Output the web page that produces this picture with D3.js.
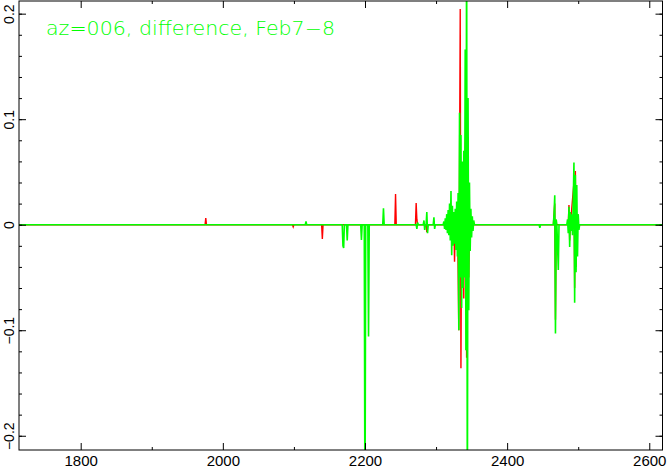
<!DOCTYPE html>
<html><head><meta charset="utf-8">
<script src="https://cdn.jsdelivr.net/npm/d3@7"></script>
<style>html,body{margin:0;padding:0;background:#fff;}svg{display:block;}</style>
</head><body>
<svg id="c" width="668" height="469"></svg>
<script>
// ---- data ----
const titleText = "az=006, difference, Feb7\u22128";
const xTicks = [1800, 2000, 2200, 2400, 2600];
const xMinor = [1900, 2100, 2300, 2500];
const yTicks = [-0.2, -0.1, 0, 0.1, 0.2];
const yTickLabels = ["\u22120.2", "\u22120.1", "0", "0.1", "0.2"];
const yMinor = [-0.2, -0.18, -0.16, -0.14, -0.12, -0.1, -0.08, -0.06, -0.04, -0.02, 0, 0.02, 0.04, 0.06, 0.08, 0.1, 0.12, 0.14, 0.16, 0.18, 0.2];

const redX = [1713, 1975, 1976, 1977, 2098, 2099, 2100, 2139, 2140, 2141, 2242, 2243, 2244, 2271, 2272, 2273, 2274, 2286, 2287, 2288,
  2320, 2321, 2322, 2325, 2326, 2327, 2330, 2332, 2334, 2335, 2336, 2338, 2339, 2340, 2342, 2343, 2345, 2346, 2347,
  2465, 2467, 2468, 2469, 2486, 2487, 2488, 2489, 2494, 2495, 2496, 2497, 2498, 2619];
const redY = [0, 0, 0.0063, 0, 0, -0.002, 0, 0, -0.0136, 0, 0, 0.029, 0, 0, 0.0206, 0.005, 0, 0, -0.007, 0,
  0, 0.012, -0.01, 0.005, -0.035, 0, 0.02, -0.1, 0.2045, -0.136, 0.03, 0.04, -0.07, 0.05, 0.09, -0.126, 0.083, -0.05, 0,
  0, 0.02, -0.09, 0, 0, 0.0187, -0.015, 0, 0.04, -0.06, 0.051, -0.04, 0, 0];

const greenX = [1713, 2116, 2117, 2118, 2168, 2169, 2170, 2171, 2174, 2175, 2176, 2194, 2195, 2196, 2199, 2200, 2201, 2204, 2205, 2206,
  2225, 2226, 2227, 2272, 2273, 2274, 2275, 2282, 2283, 2284, 2285, 2286, 2287, 2288, 2289, 2296, 2297, 2298, 2299,
  2310, 2311, 2312, 2313, 2314, 2315, 2316, 2317, 2318, 2319, 2320, 2321, 2322, 2323, 2324, 2325, 2326, 2327, 2328, 2329, 2330,
  2331, 2332, 2333, 2334, 2335, 2336, 2337, 2338, 2339, 2340, 2341, 2342, 2343, 2344, 2345, 2346, 2347, 2348, 2349, 2350,
  2351, 2352, 2353, 2354, 2445, 2446, 2447, 2465, 2466, 2467, 2468, 2469, 2470, 2472, 2473, 2484, 2485, 2486, 2487, 2488,
  2489, 2490, 2491, 2492, 2493, 2494, 2495, 2496, 2497, 2498, 2499, 2500, 2501, 2502, 2619];
const greenY = [0, 0, 0.003, 0, 0, -0.02, -0.022, 0, 0, -0.015, 0, 0, -0.0145, 0, 0, -0.3, 0, 0, -0.106, 0,
  0, 0.0155, 0, 0, -0.004, 0.002, 0, 0, 0.004, -0.005, 0, 0, 0.012, -0.008, 0, 0, 0.007, -0.004, 0,
  0, 0.003, -0.004, 0.006, -0.005, 0.01, -0.008, 0.014, -0.01, 0.02, -0.015, 0.032, -0.029, 0.018, -0.02, 0.012, -0.018, 0.015, -0.024, 0.022, -0.03,
  0.03, -0.1, 0.106, -0.05, 0.085, -0.079, 0.06, -0.06, 0.07, -0.05, 0.166, -0.119, 0.3, -0.3, 0.12, -0.081, 0.04, -0.025, 0.015, -0.012,
  0.008, -0.006, 0.004, 0, 0, -0.003, 0, 0, 0.01, 0.028, -0.103, 0.005, 0, -0.043, 0, 0, 0.005, -0.008, 0.017, -0.021,
  0.012, -0.006, 0.01, -0.01, 0.02, 0.059, -0.074, 0.047, -0.045, 0.0376, -0.03, 0.01, -0.005, 0, 0];

// ---- layout ----
const svg = d3.select("#c");
const L = 19, R = 662.5, T = 1, B = 450;
const FONT = "DejaVu Sans, Liberation Sans, sans-serif";
const LFONT = "Liberation Sans, Arial, sans-serif";
const x = d3.scaleLinear().domain([1713.2, 2618.6]).range([L, R]);
const y = d3.scaleLinear().domain([-0.2135, 0.212]).range([B, T]);

svg.append("defs").append("clipPath").attr("id", "clip")
  .append("rect").attr("x", L).attr("y", T).attr("width", R - L).attr("height", B - T);

const line = d3.line().x(d => x(d[0])).y(d => y(d[1]));
const plot = svg.append("g").attr("clip-path", "url(#clip)");
plot.append("path").datum(d3.zip(redX, redY))
  .attr("d", line).attr("fill", "none").attr("stroke", "#ff0000").attr("stroke-width", 1.4);
plot.append("path").datum(d3.zip(greenX, greenY))
  .attr("d", line).attr("fill", "none").attr("stroke", "#00ff00").attr("stroke-width", 1.6);

// ---- axes (ticks inward on all four sides) ----
function styleAxis(g) {
  g.select(".domain").remove();
  g.selectAll("line").attr("stroke", "#000").attr("stroke-width", 1);
}
svg.append("g").attr("transform", `translate(0,${B})`)
  .call(d3.axisBottom(x).tickValues(xTicks).tickSizeInner(-7).tickSizeOuter(0).tickFormat(d3.format("d")))
  .call(styleAxis)
  .call(g => g.selectAll("text").attr("y", 16).attr("dy", null)
    .attr("font-family", LFONT).attr("font-size", 15).attr("fill", "#000"));
svg.append("g").attr("transform", `translate(0,${B})`)
  .call(d3.axisBottom(x).tickValues(xMinor).tickSizeInner(-3).tickSizeOuter(0).tickFormat(""))
  .call(styleAxis);
svg.append("g").attr("transform", `translate(0,${T})`)
  .call(d3.axisTop(x).tickValues(xTicks).tickSizeInner(-7).tickSizeOuter(0).tickFormat(""))
  .call(styleAxis);
svg.append("g").attr("transform", `translate(0,${T})`)
  .call(d3.axisTop(x).tickValues(xMinor).tickSizeInner(-3).tickSizeOuter(0).tickFormat(""))
  .call(styleAxis);

svg.append("g").attr("transform", `translate(${L},0)`)
  .call(d3.axisLeft(y).tickValues(yTicks).tickSizeInner(-7).tickSizeOuter(0).tickFormat((d, i) => yTickLabels[i]))
  .call(styleAxis)
  .call(g => g.selectAll("text")
    .attr("x", null).attr("dy", null)
    .attr("text-anchor", "middle")
    .attr("font-family", LFONT).attr("font-size", 14).attr("fill", "#000")
    .attr("transform", "translate(-5,0) rotate(-90)"));
svg.append("g").attr("transform", `translate(${L},0)`)
  .call(d3.axisLeft(y).tickValues(yMinor).tickSizeInner(-3).tickSizeOuter(0).tickFormat(""))
  .call(styleAxis);
svg.append("g").attr("transform", `translate(${R},0)`)
  .call(d3.axisRight(y).tickValues(yTicks).tickSizeInner(-7).tickSizeOuter(0).tickFormat(""))
  .call(styleAxis);
svg.append("g").attr("transform", `translate(${R},0)`)
  .call(d3.axisRight(y).tickValues(yMinor).tickSizeInner(-3).tickSizeOuter(0).tickFormat(""))
  .call(styleAxis);

// frame
svg.append("rect").attr("x", L).attr("y", T).attr("width", R - L).attr("height", B - T)
  .attr("fill", "none").attr("stroke", "#000").attr("stroke-width", 1);

// title
svg.append("text").attr("x", 46).attr("y", 35)
  .attr("font-family", FONT).attr("font-weight", 200).attr("font-size", 19)
  .attr("fill", "#00ff00").attr("textLength", 289).attr("lengthAdjust", "spacingAndGlyphs")
  .text(titleText);
</script>
</body></html>
